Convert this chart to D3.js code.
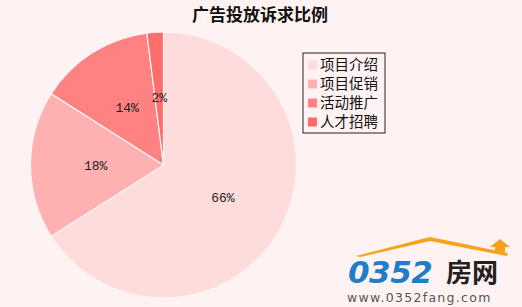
<!DOCTYPE html>
<html>
<head>
<meta charset="utf-8">
<script src="https://cdn.jsdelivr.net/npm/d3@7"></script>
<style>
  html, body { margin: 0; padding: 0; background: #fff2f2; }
  svg { display: block; }
</style>
</head>
<body>
<svg id="chart" width="522" height="307"></svg>
<script>
// 广告投放诉求比例 — share of each advertising purpose
const categories = ["项目介绍", "项目促销", "活动推广", "人才招聘"];
const shares = [66, 18, 14, 2];
const colors = ["#ffdcdc", "#ffb0b0", "#ff8282", "#ff6c6c"];

const svg = d3.select("#chart");
const W = 522, H = 307;

svg.append("rect").attr("width", W).attr("height", H).attr("fill", "#fff2f2");

// title
svg.append("text")
  .attr("x", 260).attr("y", 21)
  .attr("text-anchor", "middle")
  .attr("font-family", "'Noto Sans CJK SC', sans-serif")
  .attr("font-weight", "bold")
  .attr("font-size", 17)
  .attr("fill", "#111")
  .text("广告投放诉求比例");

// pie
const cx = 163.5, cy = 165, R = 133;
const pie = d3.pie().sort(null).value(d => d);
const arcs = pie(shares);
const arc = d3.arc().innerRadius(0).outerRadius(R);
const labelArc = d3.arc().innerRadius(R * 0.51).outerRadius(R * 0.51);
const color = d3.scaleOrdinal().domain(d3.range(categories.length)).range(colors);

const g = svg.append("g").attr("transform", `translate(${cx},${cy})`);
g.selectAll("path.slice")
  .data(arcs)
  .join("path")
  .attr("class", "slice")
  .attr("d", arc)
  .attr("fill", (d, i) => color(i))
  .attr("stroke", "#fff4f4")
  .attr("stroke-width", 1.2);

g.selectAll("text.pct")
  .data(arcs)
  .join("text")
  .attr("class", "pct")
  .attr("transform", d => `translate(${labelArc.centroid(d)})`)
  .attr("text-anchor", "middle")
  .attr("dy", "0.35em")
  .attr("font-family", "'Liberation Mono', 'DejaVu Sans Mono', monospace")
  .attr("font-size", 13)
  .attr("fill", "#222")
  .text(d => d.data + "%");

// legend
const lg = svg.append("g").attr("transform", "translate(303,53)");
lg.append("rect")
  .attr("width", 82).attr("height", 80)
  .attr("fill", "#fff2f2")
  .attr("stroke", "#222").attr("stroke-width", 1);
const ly = d3.scalePoint().domain(categories).range([12, 69]);
const items = lg.selectAll("g.item").data(categories).join("g")
  .attr("class", "item")
  .attr("transform", d => `translate(0,${ly(d)})`);
items.append("rect")
  .attr("x", 5).attr("y", -4.5)
  .attr("width", 9).attr("height", 9)
  .attr("fill", (d, i) => color(i));
items.append("text")
  .attr("x", 17).attr("dy", "0.36em")
  .attr("font-family", "'Noto Sans CJK SC', sans-serif")
  .attr("font-size", 14.5)
  .attr("fill", "#111")
  .text(d => d);

// site mark, lower right
const wm = svg.append("g");
wm.append("path")
  .attr("d", "M356,256 L430,237 L508,253 L507,256 L430,241 L360,257 Z")
  .attr("fill", "#f7a21b");
wm.append("path")
  .attr("d", "M490,247 L500,239 L510,247 L505,247 L505,252 L495,252 L495,247 Z")
  .attr("fill", "#f7a21b");
wm.append("text")
  .attr("x", 348).attr("y", 283)
  .attr("font-family", "'DejaVu Sans', sans-serif")
  .attr("font-weight", "bold")
  .attr("font-style", "italic")
  .attr("font-size", 31)
  .attr("letter-spacing", -0.5)
  .attr("fill", "#1f7ec8")
  .text("0352");
wm.append("text")
  .attr("x", 446).attr("y", 282)
  .attr("font-family", "'Noto Sans CJK SC', sans-serif")
  .attr("font-weight", "bold")
  .attr("font-size", 26)
  .attr("fill", "#222")
  .text("房网");
wm.append("text")
  .attr("x", 347).attr("y", 302)
  .attr("font-family", "'DejaVu Sans', sans-serif")
  .attr("font-size", 12.5)
  .attr("letter-spacing", 1.3)
  .attr("fill", "#555")
  .text("www.0352fang.com");
</script>
</body>
</html>
